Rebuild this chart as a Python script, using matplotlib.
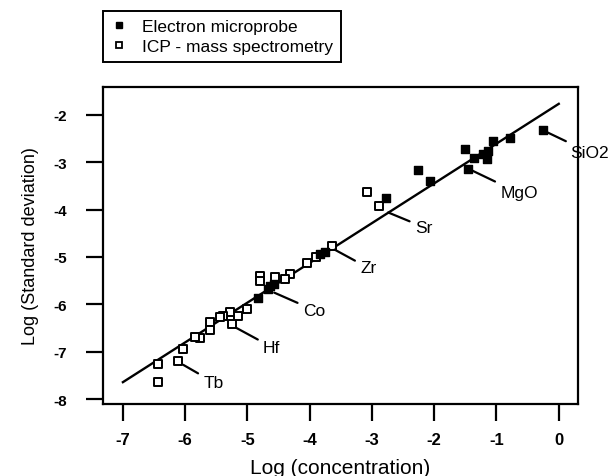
import matplotlib
matplotlib.use("Agg")
import matplotlib.pyplot as plt
from matplotlib.lines import Line2D

plt.rcParams['font.family'] = ['Liberation Sans', 'DejaVu Sans']
plt.rcParams['axes.unicode_minus'] = False

# electron microprobe (filled squares)
emp_x = [-0.25, -0.79, -1.05, -1.13, -1.16, -1.22, -1.36, -1.50, -1.45,
         -2.26, -2.06, -2.77, -3.83, -3.75, -4.64, -4.67, -4.58, -4.83]
emp_y = [-2.33, -2.49, -2.55, -2.76, -2.93, -2.82, -2.91, -2.73, -3.14,
         -3.16, -3.39, -3.76, -4.94, -4.90, -5.61, -5.68, -5.58, -5.87]

# ICP - mass spectrometry (open squares)
icp_x = [-3.08, -2.88, -3.64, -3.90, -4.05, -4.32, -4.40, -4.56, -4.80, -4.80,
         -5.01, -5.15, -5.28, -5.25, -5.39, -5.44, -5.60, -5.60, -5.76, -5.84,
         -6.04, -6.12, -6.44, -6.44]
icp_y = [-3.63, -3.92, -4.76, -5.00, -5.13, -5.36, -5.47, -5.43, -5.40, -5.50,
         -6.10, -6.24, -6.17, -6.42, -6.24, -6.27, -6.38, -6.54, -6.71, -6.69,
         -6.95, -7.19, -7.26, -7.64]

# fitted line end points
line_x = [-7.0, 0.0]
line_y = [-7.64, -1.77]

# labelled elements: name, point, text position
labels = ['SiO2', 'MgO', 'Sr', 'Zr', 'Co', 'Hf', 'Tb']
label_pts = [(-0.25, -2.33), (-1.45, -3.14), (-2.76, -4.05), (-3.62, -4.83),
             (-4.59, -5.74), (-5.20, -6.48), (-6.05, -7.26)]
label_txt = [(0.19, -2.80), (-0.94, -3.65), (-2.31, -4.37), (-3.19, -5.23),
             (-4.11, -6.12), (-4.75, -6.90), (-5.71, -7.64)]

fig = plt.figure(figsize=(6.13, 4.77), dpi=100)
ax = fig.add_axes([0.168, 0.151, 0.775, 0.665])

ax.plot(line_x, line_y, color='black', lw=1.7, zorder=2)
ax.scatter(icp_x, icp_y, marker='s', s=28, facecolors='white',
           edgecolors='black', linewidths=1.4, zorder=3)
ax.scatter(emp_x, emp_y, marker='s', s=32, color='black', zorder=4)

for name, p, t in zip(labels, label_pts, label_txt):
    ax.annotate(name, xy=p, xytext=t, ha='left', va='center', fontsize=12.5,
                arrowprops=dict(arrowstyle='-', lw=1.6, color='black',
                                shrinkA=2, shrinkB=1),
                zorder=5, annotation_clip=False)

ax.set_xlim(-7.32, 0.31)
ax.set_ylim(-8.1, -1.41)
ax.set_xticks(range(-7, 1))
ax.set_yticks(range(-8, -1))
ax.tick_params(direction='out', length=12, width=1.6, pad=6)
ax.tick_params(axis='x', labelsize=12, pad=8)
ax.tick_params(axis='y', labelsize=11, pad=14)
for lab in ax.get_xticklabels() + ax.get_yticklabels():
    lab.set_fontweight('bold')
for s in ax.spines.values():
    s.set_linewidth(1.6)

ax.set_xlabel('Log (concentration)', fontsize=15, labelpad=8)
ax.set_ylabel('Log (Standard deviation)', fontsize=13, labelpad=10)

handles = [Line2D([], [], marker='s', ls='none', color='black', markersize=5),
           Line2D([], [], marker='s', ls='none', markerfacecolor='white',
                  markeredgecolor='black', markeredgewidth=1.3, markersize=5)]
leg = fig.legend(handles, ['Electron microprobe', 'ICP - mass spectrometry'],
                 loc='upper left', bbox_to_anchor=(103 / 613, 1 - 12 / 477),
                 borderaxespad=0, fancybox=False, edgecolor='black',
                 fontsize=12.5, handlelength=0.9, handletextpad=0.9,
                 labelspacing=0.3, borderpad=0.45, framealpha=1)
leg.get_frame().set_linewidth(1.4)

fig.savefig('out.png', dpi=100)
